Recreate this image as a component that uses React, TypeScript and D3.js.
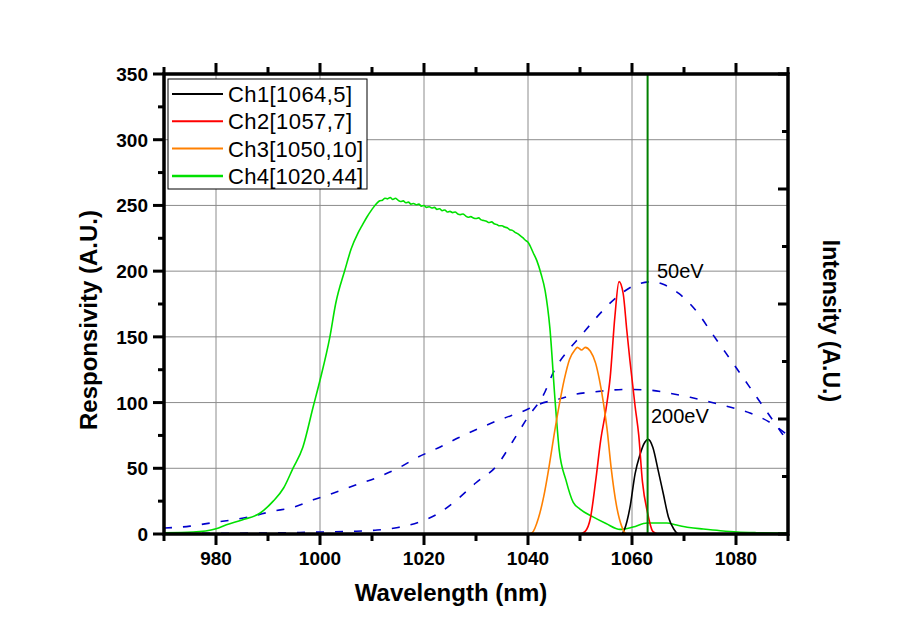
import React from "react";
import * as d3 from "d3";

const W = 916;
const H = 642;

const xTickValues = [980, 1000, 1020, 1040, 1060, 1080];
const yTickValues = [0, 50, 100, 150, 200, 250, 300, 350];

const legendLabels = ["Ch1[1064,5]", "Ch2[1057,7]", "Ch3[1050,10]", "Ch4[1020,44]"];
const seriesColors = ["#000000", "#ff0000", "#ff8000", "#00e000"];

// [wavelength, responsivity]
const ch1: [number, number][] = [
  [970, 0], [1058, 0], [1058.5, 3], [1059.6, 20], [1060.6, 46], [1061.5, 60], [1062.5, 70],
  [1063.1, 72], [1064, 66], [1065, 49], [1066, 31], [1067, 13], [1068, 4], [1069, 0], [1090, 0],
];
const ch2: [number, number][] = [
  [970, 0], [1050, 0], [1051, 2], [1052, 12], [1053, 40], [1054, 72], [1055, 95], [1055.8, 119],
  [1056.7, 165], [1057.5, 192], [1058.3, 183], [1059, 155], [1059.6, 132], [1060.6, 97],
  [1061.3, 75], [1062, 40], [1063, 16], [1064, 2], [1065, 0], [1090, 0],
];
const ch3: [number, number][] = [
  [970, 0], [1040, 0], [1040.8, 1], [1042, 12], [1043, 28], [1044, 50], [1045, 75], [1046, 98],
  [1047, 118], [1048, 133], [1049, 140], [1049.5, 142], [1050.3, 140], [1051, 142], [1052, 139],
  [1053, 130], [1053.7, 118], [1054.5, 100], [1055.2, 80], [1056, 50], [1057, 22], [1058, 6],
  [1059, 0], [1090, 0],
];
const ch4: [number, number][] = [
  [970, 1], [975.6, 1.5], [980, 4], [982, 7], [985, 10.7], [988.5, 16], [991, 25], [993, 35],
  [994.8, 50], [996.7, 66], [998.7, 97], [1000, 117], [1001.9, 150], [1003, 175], [1004.8, 201],
  [1006, 217], [1007.3, 229], [1008, 234], [1009, 241], [1010, 247],
  [1011, 252], [1011.5, 253.5], [1012, 254], [1012.5, 255.5], [1013, 255], [1013.5, 256],
  [1014, 254.5], [1014.5, 255.5], [1015, 254], [1015.5, 253], [1016, 253.5], [1016.5, 252],
  [1017, 252.5], [1017.5, 251], [1018, 251.5], [1018.5, 250.5], [1019, 251], [1019.5, 249.5],
  [1020, 250], [1020.5, 248.5], [1021, 249], [1021.5, 248], [1022, 248.5], [1022.5, 247],
  [1023, 247.5], [1023.5, 246], [1024, 246.5], [1024.5, 245], [1025, 245.5], [1025.5, 244.5],
  [1026, 245], [1026.5, 243.5], [1027, 243], [1027.5, 243.5], [1028, 242], [1028.5, 241],
  [1029, 241.5], [1029.5, 240.5], [1030, 240], [1030.5, 240.5], [1031, 239], [1031.5, 238.5],
  [1032, 238], [1032.5, 237], [1033, 237.5], [1033.5, 236], [1034, 235.5], [1034.5, 234.5],
  [1035, 234.5], [1035.5, 233.5], [1036, 233], [1036.5, 231.5], [1037, 231], [1037.5, 229.5],
  [1038, 228.5], [1038.5, 227], [1039, 225.5], [1039.5, 223.5], [1040, 222],
  [1041, 214], [1041.7, 208], [1042.5, 198], [1043.3, 185], [1044.2, 157], [1045.2, 102],
  [1046, 64], [1047.3, 41], [1048.7, 24], [1050, 19], [1052.5, 13], [1055, 8], [1057.7, 3.5],
  [1060.2, 5.3], [1062.9, 8.4], [1066.7, 8.4], [1068.6, 6.8], [1071, 5], [1073.7, 3.8],
  [1077, 2.5], [1080.2, 1.5], [1084, 1], [1088, 0.8], [1090, 0.8],
];

// [wavelength, intensity] (right axis, A.U.)
const spectrum50eV: [number, number][] = [
  [970, 0.5], [980, 0.5], [990, 0.8], [1000, 1.5], [1006, 2], [1011, 3], [1015, 5], [1019, 9],
  [1022.5, 15], [1026, 25], [1030, 39], [1034, 52], [1037, 70], [1040, 89], [1043, 106],
  [1045, 124], [1048, 141], [1050, 150], [1053, 164], [1057, 180], [1061, 190], [1064, 192],
  [1066, 190], [1069, 183], [1072.5, 169], [1075.5, 152], [1078, 138], [1081, 121], [1084, 104],
  [1087, 87], [1090, 70],
];
const spectrum200eV: [number, number][] = [
  [970, 4.5], [975, 6], [979, 8.4], [983, 10.7], [987, 13.5], [990.5, 17], [995, 20.5],
  [998.7, 26], [1002.5, 31], [1006.7, 37], [1011, 43], [1015, 50], [1018.6, 58], [1022.7, 65.5],
  [1026.5, 73], [1030.8, 80.7], [1034.6, 87], [1038.8, 93], [1042.3, 99], [1046.7, 103.5],
  [1048.7, 106], [1052.5, 108], [1059, 110], [1063, 109.6], [1067.3, 107], [1071.2, 104],
  [1075, 100.5], [1078.8, 96.6], [1082.7, 92], [1086.5, 85], [1090, 75],
];

const markerWavelength = 1063;

export default function App() {
  const left = 164, right = 788, top = 74, bottom = 534;
  const x = d3.scaleLinear().domain([970, 1090]).range([left, right]);
  const y = d3.scaleLinear().domain([0, 350]).range([bottom, top]);
  const yR = d3.scaleLinear().domain([0, 350]).range([bottom, top]);

  const line = d3.line<[number, number]>().x(d => x(d[0])).y(d => y(d[1])).curve(d3.curveMonotoneX);
  const lineR = d3.line<[number, number]>().x(d => x(d[0])).y(d => yR(d[1])).curve(d3.curveMonotoneX);

  const xMinor = d3.range(970, 1091, 10).filter(v => !xTickValues.includes(v));
  const yMinor = d3.range(25, 350, 50);
  const rMajor = d3.range(0, 350.01, 87.5);
  const rMinor = d3.range(43.75, 350, 87.5);

  const font = "'Liberation Sans', Arial, sans-serif";
  const legendWidths = [124, 124, 135, 135];

  return (
    <svg width={W} height={H} style={{ position: "absolute", left: 0, top: 0, background: "#fff" }} fontFamily={font}>
      <rect x={0} y={0} width={W} height={H} fill="#fff" />
      {/* grid */}
      <g stroke="#8c8c8c" strokeWidth={1}>
        {xTickValues.map(v => (
          <line key={"gx" + v} x1={x(v)} x2={x(v)} y1={top} y2={bottom} />
        ))}
        {yTickValues.filter(v => v > 0 && v < 350).map(v => (
          <line key={"gy" + v} x1={left} x2={right} y1={y(v)} y2={y(v)} />
        ))}
      </g>

      {/* blue dashed spectra */}
      <g fill="none" stroke="#0000cc" strokeWidth={1.6} strokeDasharray="8,11">
        <path d={lineR(spectrum200eV) || ""} />
        <path d={lineR(spectrum50eV) || ""} />
      </g>

      {/* channels */}
      <g fill="none" strokeWidth={1.6}>
        <path d={line(ch4) || ""} stroke={seriesColors[3]} />
        <path d={line(ch1) || ""} stroke={seriesColors[0]} />
        <path d={line(ch2) || ""} stroke={seriesColors[1]} />
        <path d={line(ch3) || ""} stroke={seriesColors[2]} />
      </g>

      {/* marker line */}
      <line x1={x(markerWavelength)} x2={x(markerWavelength)} y1={top} y2={bottom} stroke="#008000" strokeWidth={2} />

      {/* frame */}
      <rect x={left} y={top} width={right - left} height={bottom - top} fill="none" stroke="#000" strokeWidth={3.5} />

      {/* ticks */}
      <g stroke="#000" strokeWidth={3}>
        {xTickValues.map(v => (
          <g key={"xt" + v}>
            <line x1={x(v)} x2={x(v)} y1={bottom} y2={bottom + 11} />
            <line x1={x(v)} x2={x(v)} y1={top} y2={top - 11} />
          </g>
        ))}
        {xMinor.map(v => (
          <g key={"xm" + v}>
            <line x1={x(v)} x2={x(v)} y1={bottom} y2={bottom + 7} />
            <line x1={x(v)} x2={x(v)} y1={top} y2={top - 7} />
          </g>
        ))}
        {yTickValues.map(v => (
          <line key={"yt" + v} x1={left} x2={left - 11} y1={y(v)} y2={y(v)} />
        ))}
        {yMinor.map(v => (
          <line key={"ym" + v} x1={left} x2={left - 6} y1={y(v)} y2={y(v)} />
        ))}
        {rMajor.map(v => (
          <line key={"rt" + v} x1={right} x2={right - 10} y1={yR(v)} y2={yR(v)} />
        ))}
        {rMinor.map(v => (
          <line key={"rm" + v} x1={right} x2={right - 6} y1={yR(v)} y2={yR(v)} />
        ))}
      </g>

      {/* tick labels */}
      <g fontSize={19} fontWeight="bold" fill="#000">
        {xTickValues.map(v => (
          <text key={"xl" + v} x={x(v)} y={565} textAnchor="middle">{v}</text>
        ))}
        {yTickValues.map(v => (
          <text key={"yl" + v} x={148} y={y(v) + 7} textAnchor="end">{v}</text>
        ))}
      </g>

      {/* axis titles */}
      <text x={451} y={601} textAnchor="middle" fontSize={24} fontWeight="bold">Wavelength (nm)</text>
      <text transform="translate(97,320) rotate(-90)" textAnchor="middle" fontSize={24} fontWeight="bold">Responsivity (A.U.)</text>
      <text transform="translate(823,321) rotate(90)" textAnchor="middle" fontSize={23} fontWeight="bold">Intensity (A.U.)</text>

      {/* annotations */}
      <text x={657} y={278} fontSize={20}>50eV</text>
      <text x={651} y={423} fontSize={20}>200eV</text>

      {/* legend */}
      <rect x={168} y={79} width={199} height={110} fill="#fff" stroke="#000" strokeWidth={1} />
      {legendLabels.map((lab, i) => (
        <g key={lab}>
          <line x1={172} x2={223} y1={94 + i * 27.3} y2={94 + i * 27.3} stroke={seriesColors[i]} strokeWidth={i === 3 ? 2.5 : 2} />
          <text x={228} y={102 + i * 27.3} fontSize={22} textLength={legendWidths[i]} lengthAdjust="spacing">{lab}</text>
        </g>
      ))}
    </svg>
  );
}
